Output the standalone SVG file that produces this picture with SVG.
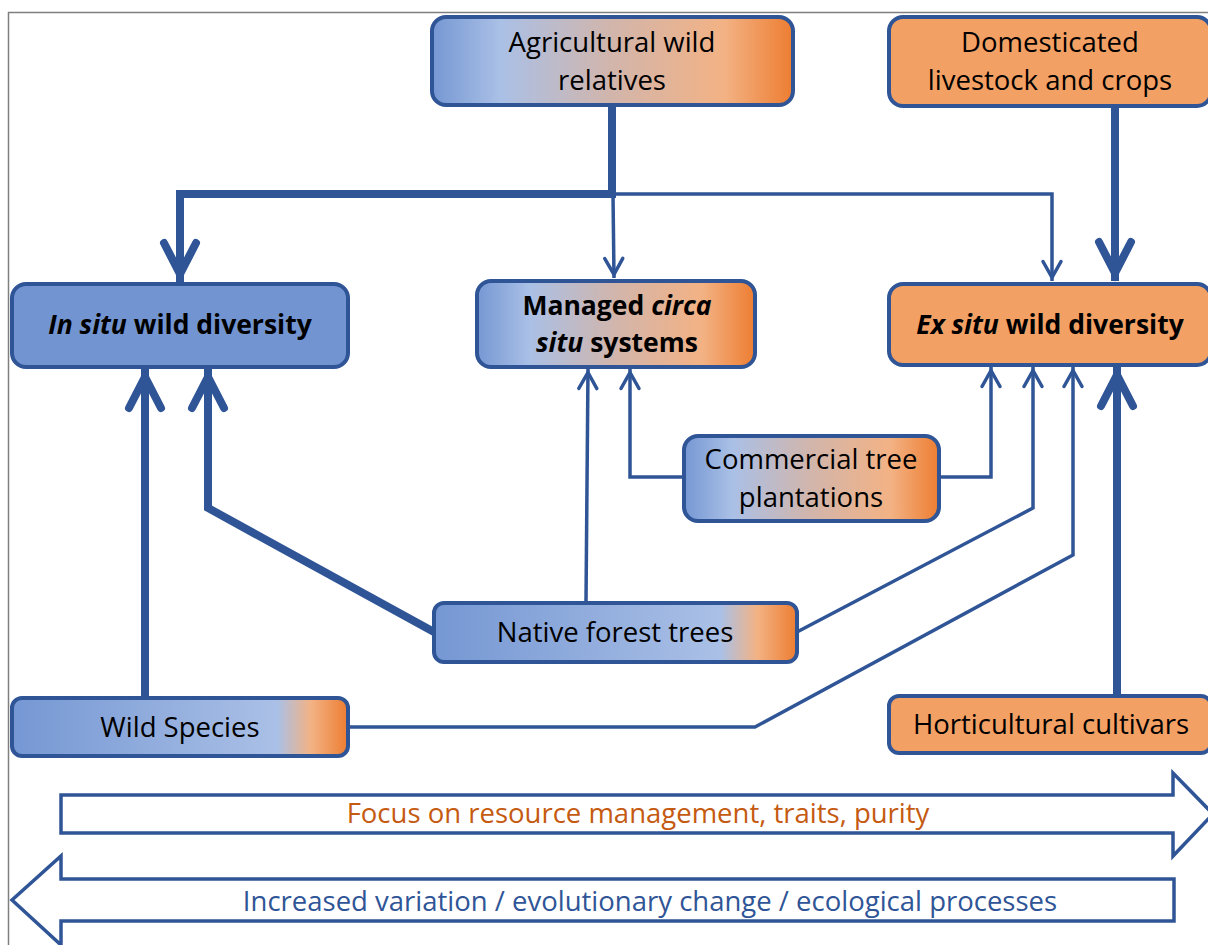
<svg xmlns="http://www.w3.org/2000/svg" width="1208" height="945" viewBox="0 0 1208 945">
  <defs>
    <linearGradient id="gMix" x1="0" y1="0" x2="1" y2="0">
      <stop offset="0" stop-color="#7597d3"/>
      <stop offset="0.19" stop-color="#aac0e6"/>
      <stop offset="0.5" stop-color="#d2b5ab"/>
      <stop offset="0.81" stop-color="#f3b284"/>
      <stop offset="1" stop-color="#ed7d31"/>
    </linearGradient>
    <linearGradient id="gBlue" x1="0" y1="0" x2="1" y2="0">
      <stop offset="0" stop-color="#7597d3"/>
      <stop offset="0.79" stop-color="#aac0e6"/>
      <stop offset="0.89" stop-color="#f3b284"/>
      <stop offset="1" stop-color="#ed7d31"/>
    </linearGradient>
    <marker id="ahThick" markerUnits="userSpaceOnUse" orient="auto" refX="8" refY="0" markerWidth="60" markerHeight="60" overflow="visible">
      <path d="M-31,-16 L0,0 L-31,16" fill="none" stroke="#2f5597" stroke-width="8" stroke-linecap="round" stroke-linejoin="miter"/>
    </marker>
    <marker id="ahThin" markerUnits="userSpaceOnUse" orient="auto" refX="3.5" refY="0" markerWidth="40" markerHeight="40" overflow="visible">
      <path d="M-16,-9 L0,0 L-16,9" fill="none" stroke="#2f5597" stroke-width="3.5" stroke-linecap="round" stroke-linejoin="miter"/>
    </marker>
    <style>
      .box { stroke: #2f5597; stroke-width: 4; }
      .blue { fill: #7295d2; }
      .orange { fill: #f3a064; }
      .mix { fill: url(#gMix); }
      .bl { fill: url(#gBlue); }
      .t { font-family: "Open Sans", "Liberation Sans", sans-serif; font-size: 27.5px; fill: #000; text-anchor: middle; }
      .b { font-weight: bold; font-size: 26.5px; }
      .i { font-style: italic; }
      .thick { fill: none; stroke: #2f5597; stroke-width: 8; marker-end: url(#ahThick); }
      .thin { fill: none; stroke: #2f5597; stroke-width: 3.5; marker-end: url(#ahThin); }
      .band { fill: #fff; stroke: #2f5597; stroke-width: 3.5; }
      .bt { font-family: "Open Sans", "Liberation Sans", sans-serif; font-size: 27.5px; text-anchor: middle; }
    </style>
  </defs>

  <rect x="0" y="0" width="1208" height="945" fill="#fff"/>
  <path d="M8.5,945 V12.5 H1208" fill="none" stroke="#7f7f7f" stroke-width="1.5"/>

  <g id="connectors">
    <path class="thick" d="M612,106 V194 H180 V282"/>
    <path class="thin" d="M612,194 H1052 V281"/>
    <path class="thin" d="M613,194 L614,278"/>
    <path class="thick" d="M1115,107 V281"/>
    <path class="thick" d="M145,697 V369"/>
    <path class="thick" d="M434,632 L208,508 V369"/>
    <path class="thin" d="M586,602 L588,369"/>
    <path class="thin" d="M684,477 H630 V369"/>
    <path class="thin" d="M939,477 H991 V367"/>
    <path class="thin" d="M797,632 L1033,508 V367"/>
    <path class="thin" d="M348,727 H755 L1073,555 V367"/>
    <path class="thick" d="M1117,695 V367"/>
  </g>

  <g id="agricultural">
    <rect class="box mix" x="432" y="17" width="361" height="88" rx="14"/>
    <text class="t" x="612" y="52">Agricultural wild</text>
    <text class="t" x="612" y="90">relatives</text>
  </g>
  <g id="domesticated">
    <rect class="box orange" x="889" y="17" width="322" height="89" rx="14"/>
    <text class="t" x="1050" y="52">Domesticated</text>
    <text class="t" x="1050" y="90">livestock and crops</text>
  </g>
  <g id="insitu">
    <rect class="box blue" x="12" y="284" width="336" height="83" rx="14"/>
    <text class="t b" x="180" y="334"><tspan class="i">In situ</tspan> wild diversity</text>
  </g>
  <g id="circasitu">
    <rect class="box mix" x="477" y="281" width="278" height="86" rx="14"/>
    <text class="t b" x="617" y="315">Managed <tspan class="i">circa</tspan></text>
    <text class="t b" x="617" y="352"><tspan class="i">situ</tspan> systems</text>
  </g>
  <g id="exsitu">
    <rect class="box orange" x="889" y="284" width="322" height="81" rx="14"/>
    <text class="t b" x="1050" y="334"><tspan class="i">Ex situ</tspan> wild diversity</text>
  </g>
  <g id="commercial">
    <rect class="box mix" x="684" y="436" width="255" height="85" rx="14"/>
    <text class="t" x="811" y="469">Commercial tree</text>
    <text class="t" x="811" y="507">plantations</text>
  </g>
  <g id="native">
    <rect class="box bl" x="434" y="603" width="363" height="59" rx="10"/>
    <text class="t" x="615" y="642">Native forest trees</text>
  </g>
  <g id="wildspecies">
    <rect class="box bl" x="12" y="698" width="336" height="58" rx="10"/>
    <text class="t" x="180" y="737">Wild Species</text>
  </g>
  <g id="horticultural">
    <rect class="box orange" x="889" y="696" width="322" height="57" rx="10"/>
    <text class="t" x="1051" y="734">Horticultural cultivars</text>
  </g>

  <g id="focus-arrow">
    <path class="band" d="M61,795 H1173 V773 L1213,814 L1173,856 V833 H61 Z"/>
    <text class="bt" x="638" y="823" fill="#c55a11">Focus on resource management, traits, purity</text>
  </g>
  <g id="variation-arrow">
    <path class="band" d="M1174,879 H61 V856 L12,900 L61,945 V921 H1174 Z"/>
    <text class="bt" x="650" y="911" fill="#2f5597">Increased variation / evolutionary change / ecological processes</text>
  </g>
</svg>
